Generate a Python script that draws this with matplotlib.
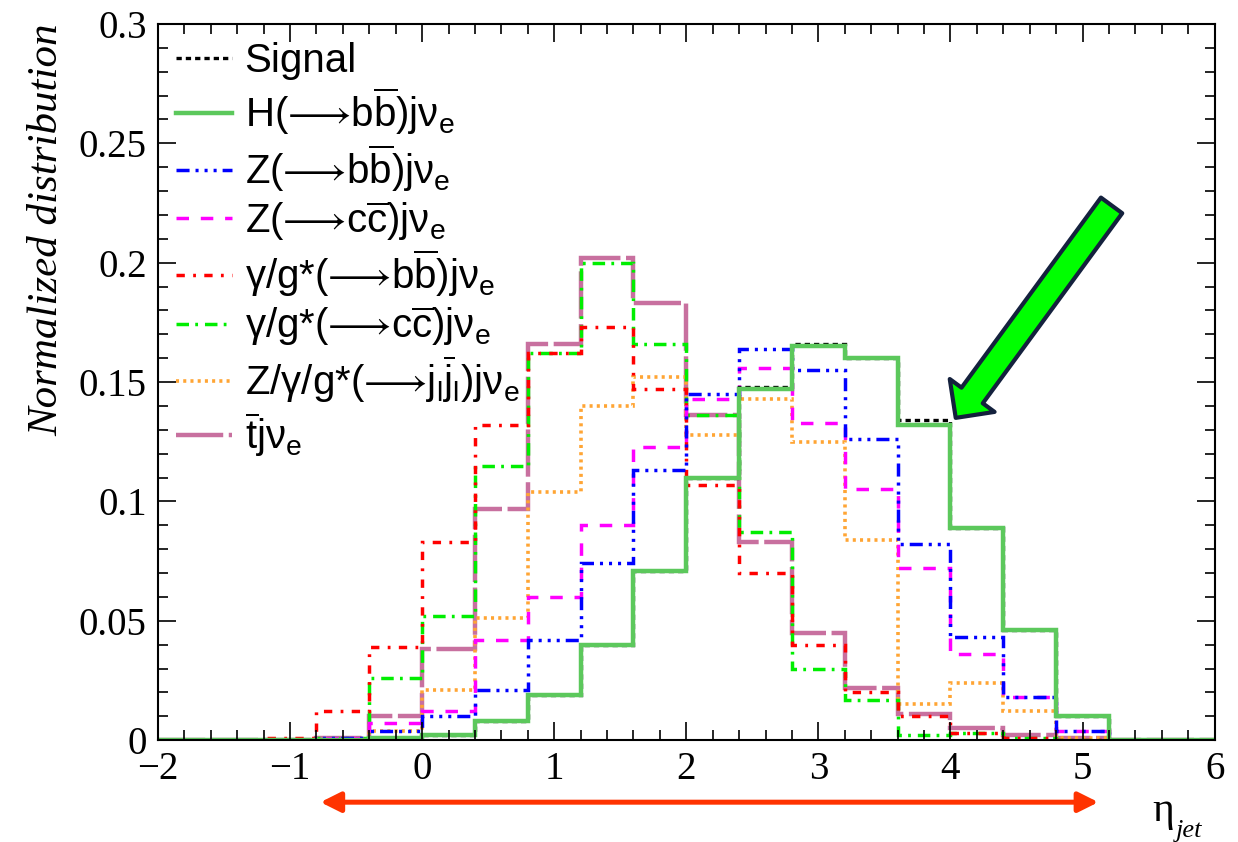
import numpy as np
import matplotlib
matplotlib.use("Agg")
import matplotlib.pyplot as plt
from matplotlib.ticker import MultipleLocator

# eta_jet bin edges (width 0.4)
edges = [-2.0, -1.6, -1.2, -0.8, -0.4, 0.0, 0.4, 0.8, 1.2, 1.6, 2.0,
         2.4, 2.8, 3.2, 3.6, 4.0, 4.4, 4.8, 5.2, 5.6, 6.0]

signal = [0, 0, 0, 0, 0.001, 0.002, 0.008, 0.019, 0.040, 0.071,
          0.110, 0.148, 0.166, 0.160, 0.134, 0.089, 0.046, 0.010, 0, 0]
h_bb = [0, 0, 0, 0, 0.001, 0.002, 0.008, 0.019, 0.040, 0.071,
        0.110, 0.147, 0.165, 0.160, 0.132, 0.089, 0.046, 0.010, 0, 0]
z_bb = [0, 0, 0, 0.001, 0.004, 0.010, 0.021, 0.042, 0.074, 0.113,
        0.145, 0.164, 0.155, 0.126, 0.082, 0.043, 0.018, 0.004, 0, 0]
z_cc = [0, 0, 0, 0.001, 0.007, 0.012, 0.042, 0.060, 0.090, 0.123,
        0.143, 0.156, 0.133, 0.105, 0.072, 0.036, 0.018, 0.004, 0, 0]
gg_bb = [0, 0, 0.001, 0.012, 0.039, 0.083, 0.132, 0.162, 0.173, 0.147,
         0.107, 0.070, 0.040, 0.020, 0.010, 0.003, 0.001, 0, 0, 0]
gg_cc = [0, 0, 0, 0.001, 0.026, 0.052, 0.115, 0.162, 0.200, 0.166,
         0.136, 0.087, 0.030, 0.017, 0.002, 0.003, 0.001, 0, 0, 0]
zgg_jj = [0, 0, 0, 0, 0.004, 0.021, 0.051, 0.104, 0.140, 0.152,
          0.128, 0.143, 0.125, 0.084, 0.015, 0.024, 0.012, 0.001, 0, 0]
tbar = [0, 0, 0, 0.001, 0.010, 0.038, 0.097, 0.166, 0.202, 0.183,
        0.136, 0.083, 0.045, 0.022, 0.011, 0.005, 0.002, 0.001, 0, 0]

plt.rcParams['lines.scale_dashes'] = False
plt.rcParams['mathtext.fontset'] = 'custom'
plt.rcParams['mathtext.rm'] = 'Liberation Sans'
plt.rcParams['mathtext.it'] = 'Liberation Sans:italic'
plt.rcParams['mathtext.fallback'] = 'stixsans'

fig = plt.figure(figsize=(12.38, 8.42), dpi=100)
ax = fig.add_axes([0.1276, 0.121, 0.8535, 0.8505])

arrow = '$⟶$'
series = [
    (signal, 'Signal', 'black', (0, (3.8, 2.9)), 2.4),
    (h_bb, 'H(' + arrow + r'b$\overline{\mathrm{b}}$)jν$_{\mathrm{e}}$', '#5cc85c', '-', 3.2),
    (z_bb, 'Z(' + arrow + r'b$\overline{\mathrm{b}}$)jν$_{\mathrm{e}}$', '#0000ff',
     (0, (9.4, 4.3, 2.2, 4.3, 2.2, 4.3, 2.2, 4.3)), 2.5),
    (z_cc, 'Z(' + arrow + r'c$\overline{\mathrm{c}}$)jν$_{\mathrm{e}}$', '#ff00ff',
     (0, (9, 8.5)), 2.5),
    (gg_bb, 'γ/g*(' + arrow + r'b$\overline{\mathrm{b}}$)jν$_{\mathrm{e}}$', '#ff0000',
     (0, (6, 6, 2, 6)), 2.5),
    (gg_cc, 'γ/g*(' + arrow + r'c$\overline{\mathrm{c}}$)jν$_{\mathrm{e}}$', '#00ee00',
     (0, (9, 4.5, 2, 5)), 2.5),
    (zgg_jj, 'Z/γ/g*(' + arrow + r'j$_{\mathrm{l}}\overline{\mathrm{j}}_{\mathrm{l}}$)jν$_{\mathrm{e}}$',
     '#ffa534', (0, (2.2, 3)), 2.6),
    (tbar, r'$\overline{\mathrm{t}}$jν$_{\mathrm{e}}$', '#c8709f', (0, (34, 4)), 3.2),
]

# draw order: backgrounds first, H on top of signal
for idx in [7, 6, 5, 4, 3, 2, 0, 1]:
    vals, lab, col, ls, w = series[idx]
    ax.stairs(vals, edges, color=col, linestyle=ls, linewidth=w, baseline=None)

leg_handles = []
for vals, lab, col, ls, w in series:
    leg_handles.append(plt.Line2D([], [], color=col, linestyle=ls, linewidth=w, label=lab))

ax.legend(handles=leg_handles, loc='upper left', frameon=False,
          prop={'family': ['Liberation Sans', 'DejaVu Sans'], 'size': 29},
          handlelength=1.4, handletextpad=0.3, labelspacing=0.12,
          borderaxespad=0.2, borderpad=0.25)

ax.set_xlim(-2, 6)
ax.set_ylim(0, 0.3)
ax.xaxis.set_major_locator(MultipleLocator(1))
ax.xaxis.set_minor_locator(MultipleLocator(0.2))
ax.yaxis.set_minor_locator(MultipleLocator(0.01))
ax.tick_params(which='both', direction='in', top=True, right=True, width=1.2)
ax.tick_params(which='major', length=13, labelsize=28, pad=8)
ax.tick_params(which='minor', length=7)
ax.set_yticks([0, 0.05, 0.1, 0.15, 0.2, 0.25, 0.3])
ax.set_yticklabels(['0', '0.05', '0.1', '0.15', '0.2', '0.25', '0.3'])
for lab in ax.get_xticklabels() + ax.get_yticklabels():
    lab.set_family('Liberation Serif')
for sp in ax.spines.values():
    sp.set_linewidth(1.5)

ax.set_ylabel('Normalized distribution', family='Liberation Serif',
              style='italic', fontsize=31, labelpad=9, loc='top')

ax.text(0.962, -0.098, 'η', transform=ax.transAxes, family='Liberation Serif',
        fontsize=30, ha='right', va='center')
ax.text(0.963, -0.127, 'jet', transform=ax.transAxes, family='Liberation Serif',
        style='italic', fontsize=19, ha='left', va='center')

# green arrow pointing at the signal
ax.annotate('', xy=(4.04, 0.135), xytext=(5.22, 0.224),
            arrowprops=dict(arrowstyle='simple,head_length=20,head_width=40,tail_width=19',
                            mutation_scale=1, fc='#00ff00', ec='#14213d', lw=3,
                            shrinkA=0, shrinkB=0))

# red double arrow below the axis
ax.annotate('', xy=(-0.77, -0.026), xytext=(5.12, -0.026), annotation_clip=False,
            arrowprops=dict(arrowstyle='<|-|>,head_length=1.2,head_width=0.6',
                            mutation_scale=10, color='#ff3300', lw=3.6,
                            shrinkA=0, shrinkB=0))

fig.savefig('out.png', dpi=100)
